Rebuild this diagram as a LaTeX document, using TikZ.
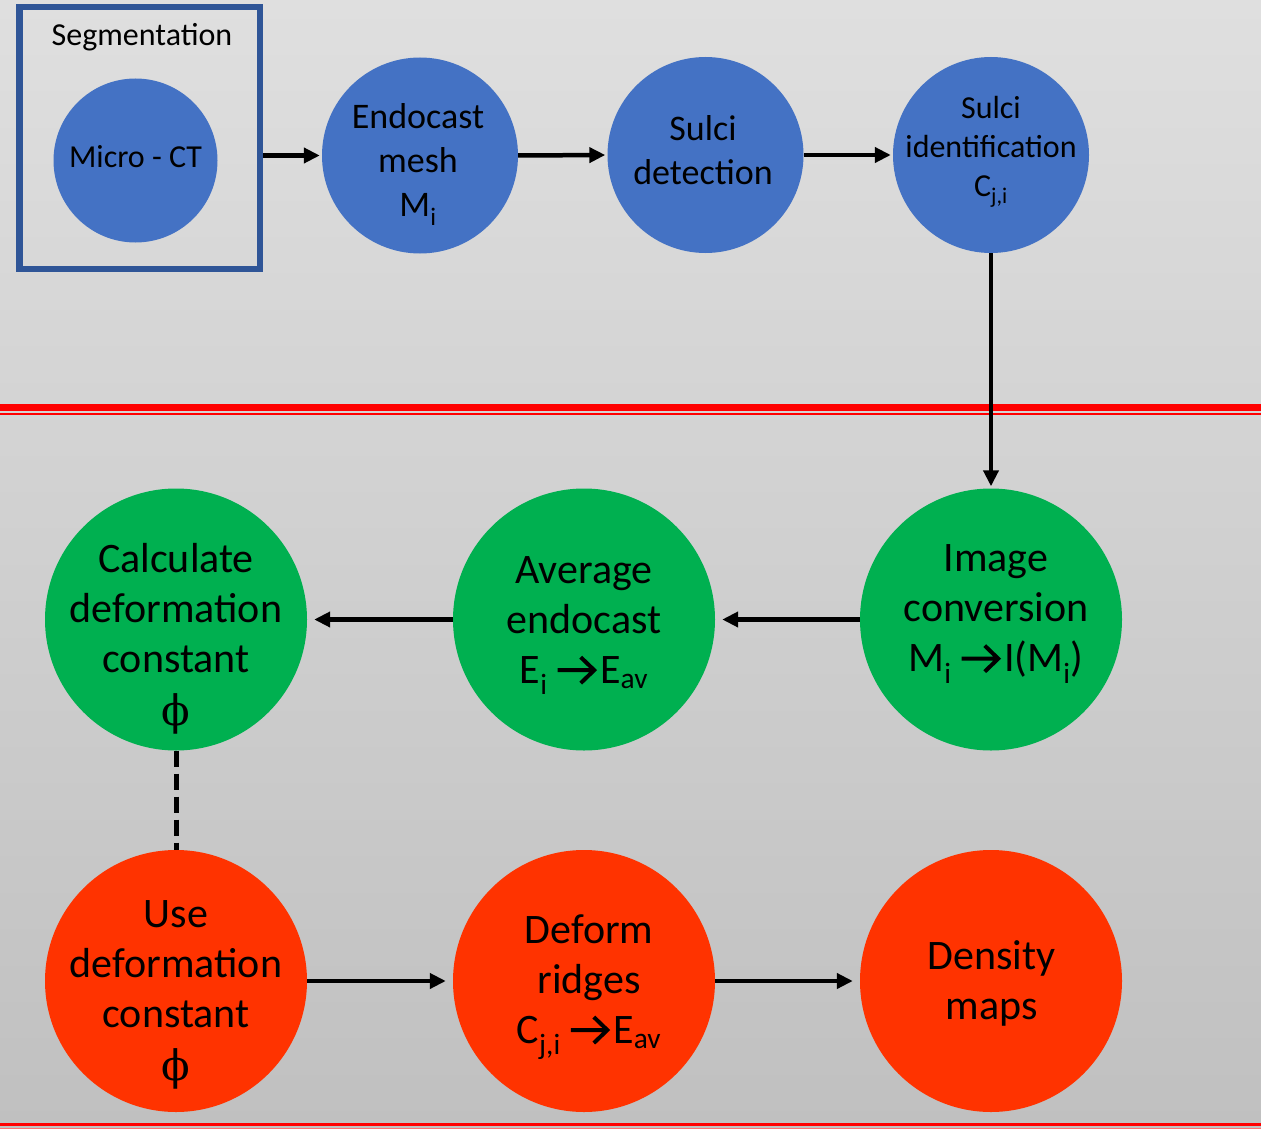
\documentclass[tikz,border=0pt]{standalone}
\usepackage{fontspec}
\setmainfont{Carlito}
\newfontfamily\phifont{DejaVu Serif}
\usetikzlibrary{arrows.meta}
\definecolor{bgtop}{HTML}{DFDFDF}
\definecolor{bgbot}{HTML}{C0C0C0}
\definecolor{cblue}{HTML}{4472C4}
\definecolor{cgreen}{HTML}{00B050}
\definecolor{cred}{HTML}{FF3300}
\definecolor{cbox}{HTML}{2F5597}
\newcommand{\sbs}[1]{\textsubscript{#1}}
\newcommand{\arr}{\hspace{8pt}\tikz[baseline=0pt,x=1pt,y=1pt]{\draw[line width=4pt, line join=miter, line cap=butt] (0,13)--(36,13) (23,0)--(36.5,13)--(23,26);}\hspace{4pt}}
\newcommand{\phisym}{{\phifont ϕ}}
\begin{document}
\begin{tikzpicture}[x=1pt,y=-1pt,
  disc/.style={circle, draw=none, inner sep=0pt, minimum size=#1},
  bluedisc/.style={disc=196pt, fill=cblue},
  smalldisc/.style={disc=164pt, fill=cblue},
  greendisc/.style={disc=262pt, fill=cgreen},
  reddisc/.style={disc=262pt, fill=cred},
  flow/.style={line width=4.5pt, -{Triangle[length=16pt,width=15pt]}, shorten >=2pt},
  flowb/.style={flow, shorten >=7pt},
  t32/.style={align=center, inner sep=0pt, font=\fontsize{32}{39}\selectfont},
  t36/.style={align=center, inner sep=0pt, font=\fontsize{36}{44}\selectfont},
  t42/.style={align=center, inner sep=0pt, font=\fontsize{42}{50}\selectfont}
]
\useasboundingbox (0,0) rectangle (1261,1129);
\shade[top color=bgtop, bottom color=bgbot] (0,0) rectangle (1261,1129);
% red separators
\fill[red] (0,403.5) rectangle (1261,410.5);
\fill[red] (0,412.5) rectangle (1261,415);
\fill[red] (0,1123) rectangle (1261,1126);
\fill[red!55] (0,1127.5) rectangle (1261,1129);
% segmentation box
\node[draw=cbox, line width=6.5pt, minimum width=240.5pt, minimum height=261.5pt, inner sep=0pt] (seg) at (139.5,138) {};
\node[t32] (segT) at (142,37) {Segmentation};
% top row
\node[smalldisc] (micro) at (135.5,160.5) {};
\node[t32] (microT) at (135.5,157) {Micro - CT};
\node[bluedisc] (endo) at (420,155.5) {};
\node[t36] (endoT) at (418,164.5) {Endocast\\mesh\\M\sbs{i}};
\node[bluedisc] (sdet) at (705.5,155) {};
\node[t36] (sdetT) at (703,150) {Sulci\\detection};
\node[bluedisc] (sid) at (991,155) {};
\node[t32] (sidT) at (991,152) {Sulci\\identification\\C\sbs{j,i}};
% green row
\node[greendisc] (calc) at (176,619.5) {};
\node[t42] (calcT) at (176,638.5) {Calculate\\deformation\\constant\\[3pt]\phisym};
\node[greendisc] (avg) at (584,619.5) {};
\node[t42] (avgT) at (584,625.5) {Average\\endocast\\E\sbs{i}\arr E\sbs{av}};
\node[greendisc] (img) at (991,619.5) {};
\node[t42] (imgT) at (996,614) {Image\\conversion\\M\sbs{i}\arr I(M\sbs{i})};
% red row
\node[reddisc] (use) at (176,981) {};
\node[t42] (useT) at (176,995) {Use\\deformation\\constant\\[3pt]\phisym};
\node[reddisc] (deform) at (584,981) {};
\node[t42] (deformT) at (589,987) {Deform\\ridges\\C\sbs{j,i}\arr E\sbs{av}};
\node[reddisc] (dens) at (991,981) {};
\node[t42] (densT) at (991.5,983) {Density\\maps};
% connectors
\draw[flow] (seg.east |- endo.west) -- (endo.west);
\draw[flow] (endo.east) -- (sdet.west);
\draw[flow] (sdet.east) -- (sid.west);
\draw[flow] (sid.south) -- (img.north);
\draw[flowb] (img.west) -- (avg.east);
\draw[flowb] (avg.west) -- (calc.east);
\draw[line width=5pt, dash pattern=on 16pt off 7pt] (calc.south) -- (use.north);
\draw[flowb] (use.east) -- (deform.west);
\draw[flowb] (deform.east) -- (dens.west);
\end{tikzpicture}
\end{document}
